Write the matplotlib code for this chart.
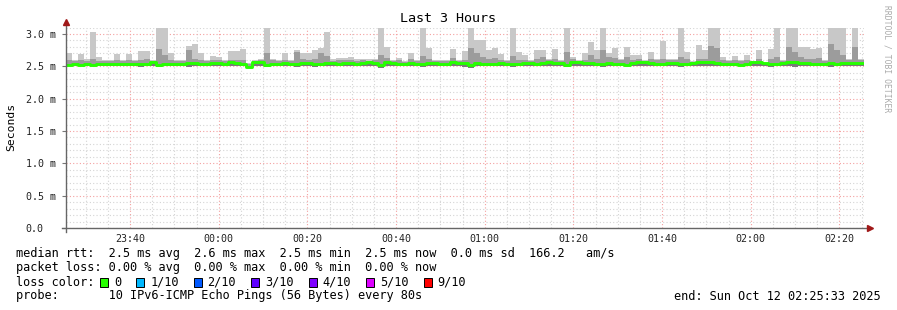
import datetime as dt
import matplotlib
matplotlib.use("Agg")
import matplotlib.pyplot as plt
import matplotlib.dates as mdates
from matplotlib.lines import Line2D
import numpy as np

# time window of the graph
t_start = dt.datetime(2025, 10, 11, 23, 25, 33)
t_end = dt.datetime(2025, 10, 12, 2, 25, 33)

# smoke: max / upper quartile / min ping per step (ms), median rtt (ms)
rtt_max = [
    2.70, 2.60, 2.69, 2.62, 3.03, 2.65, 2.60, 2.60, 2.69, 2.60,
    2.69, 2.60, 2.73, 2.73, 2.60, 3.10, 3.10, 2.70, 2.60, 2.60,
    2.82, 2.84, 2.71, 2.60, 2.66, 2.64, 2.60, 2.73, 2.74, 2.77,
    2.55, 2.60, 2.62, 3.10, 2.62, 2.60, 2.71, 2.60, 2.75, 2.70,
    2.70, 2.75, 2.78, 3.03, 2.62, 2.63, 2.63, 2.65, 2.62, 2.62,
    2.61, 2.61, 3.10, 2.80, 2.60, 2.63, 2.58, 2.70, 2.60, 3.10,
    2.78, 2.60, 2.60, 2.60, 2.77, 2.60, 2.74, 3.10, 2.90, 2.90,
    2.75, 2.79, 2.69, 2.60, 3.10, 2.72, 2.68, 2.60, 2.75, 2.75,
    2.62, 2.77, 2.60, 3.10, 2.65, 2.60, 2.70, 2.87, 2.75, 3.10,
    2.70, 2.78, 2.62, 2.80, 2.68, 2.68, 2.60, 2.72, 2.62, 2.89,
    2.62, 2.62, 3.10, 2.72, 2.58, 2.83, 2.75, 3.10, 3.10, 2.65,
    2.60, 2.66, 2.60, 2.68, 2.55, 2.75, 2.55, 2.77, 3.10, 2.60,
    3.10, 3.10, 2.80, 2.80, 2.76, 2.78, 2.60, 3.10, 3.10, 3.10,
    2.62, 3.10, 2.62,
]
rtt_upper = [
    2.60, 2.58, 2.59, 2.58, 2.62, 2.58, 2.58, 2.58, 2.60, 2.58,
    2.59, 2.58, 2.60, 2.61, 2.58, 2.76, 2.68, 2.59, 2.58, 2.58,
    2.75, 2.62, 2.60, 2.58, 2.59, 2.60, 2.58, 2.60, 2.59, 2.60,
    2.53, 2.58, 2.59, 2.70, 2.59, 2.58, 2.60, 2.58, 2.72, 2.62,
    2.60, 2.62, 2.70, 2.66, 2.58, 2.59, 2.60, 2.60, 2.58, 2.59,
    2.58, 2.59, 2.68, 2.63, 2.58, 2.60, 2.57, 2.61, 2.58, 2.66,
    2.62, 2.58, 2.58, 2.58, 2.63, 2.58, 2.60, 2.78, 2.70, 2.64,
    2.61, 2.63, 2.60, 2.58, 2.66, 2.60, 2.59, 2.58, 2.62, 2.64,
    2.59, 2.61, 2.58, 2.72, 2.62, 2.58, 2.60, 2.68, 2.62, 2.75,
    2.64, 2.63, 2.59, 2.65, 2.60, 2.61, 2.58, 2.61, 2.59, 2.62,
    2.59, 2.59, 2.65, 2.62, 2.57, 2.62, 2.62, 2.82, 2.78, 2.60,
    2.58, 2.59, 2.58, 2.60, 2.54, 2.62, 2.54, 2.62, 2.65, 2.58,
    2.80, 2.72, 2.64, 2.62, 2.62, 2.63, 2.58, 2.85, 2.75, 2.68,
    2.59, 2.80, 2.60,
]
rtt_min = [
    2.50, 2.50, 2.51, 2.50, 2.50, 2.51, 2.50, 2.50, 2.50, 2.51,
    2.50, 2.50, 2.49, 2.50, 2.51, 2.49, 2.50, 2.51, 2.50, 2.50,
    2.49, 2.50, 2.50, 2.51, 2.50, 2.50, 2.51, 2.50, 2.50, 2.50,
    2.47, 2.51, 2.50, 2.49, 2.50, 2.51, 2.50, 2.50, 2.49, 2.50,
    2.50, 2.49, 2.50, 2.50, 2.51, 2.50, 2.50, 2.51, 2.50, 2.50,
    2.51, 2.50, 2.48, 2.50, 2.51, 2.50, 2.50, 2.50, 2.51, 2.49,
    2.50, 2.51, 2.50, 2.50, 2.50, 2.51, 2.49, 2.47, 2.50, 2.50,
    2.50, 2.50, 2.51, 2.50, 2.49, 2.50, 2.50, 2.51, 2.50, 2.50,
    2.51, 2.50, 2.50, 2.49, 2.50, 2.51, 2.50, 2.50, 2.50, 2.49,
    2.50, 2.50, 2.50, 2.50, 2.51, 2.50, 2.51, 2.50, 2.50, 2.50,
    2.50, 2.51, 2.49, 2.50, 2.50, 2.50, 2.51, 2.50, 2.50, 2.50,
    2.50, 2.50, 2.51, 2.50, 2.50, 2.51, 2.50, 2.49, 2.50, 2.50,
    2.50, 2.49, 2.50, 2.50, 2.50, 2.50, 2.51, 2.49, 2.50, 2.50,
    2.50, 2.50, 2.51,
]
median = [
    2.52, 2.53, 2.52, 2.53, 2.52, 2.53, 2.54, 2.54, 2.53, 2.53,
    2.54, 2.53, 2.53, 2.54, 2.56, 2.52, 2.53, 2.54, 2.54, 2.53,
    2.55, 2.55, 2.54, 2.54, 2.55, 2.55, 2.54, 2.56, 2.55, 2.54,
    2.49, 2.56, 2.56, 2.52, 2.54, 2.54, 2.55, 2.54, 2.54, 2.55,
    2.55, 2.53, 2.54, 2.55, 2.55, 2.54, 2.55, 2.55, 2.54, 2.55,
    2.56, 2.55, 2.52, 2.56, 2.55, 2.54, 2.54, 2.55, 2.54, 2.54,
    2.55, 2.55, 2.53, 2.54, 2.56, 2.55, 2.55, 2.52, 2.55, 2.54,
    2.54, 2.54, 2.55, 2.54, 2.53, 2.54, 2.55, 2.55, 2.54, 2.55,
    2.56, 2.55, 2.55, 2.52, 2.56, 2.56, 2.55, 2.55, 2.54, 2.53,
    2.55, 2.54, 2.54, 2.52, 2.55, 2.56, 2.56, 2.55, 2.54, 2.54,
    2.55, 2.55, 2.54, 2.53, 2.55, 2.56, 2.57, 2.56, 2.55, 2.54,
    2.54, 2.53, 2.52, 2.54, 2.56, 2.57, 2.55, 2.54, 2.53, 2.55,
    2.56, 2.56, 2.55, 2.55, 2.54, 2.53, 2.54, 2.55, 2.54, 2.55,
    2.55, 2.55, 2.55,
]

y_ticks = [0.0, 0.5, 1.0, 1.5, 2.0, 2.5, 3.0]
y_labels = ["0.0", "0.5 m", "1.0 m", "1.5 m", "2.0 m", "2.5 m", "3.0 m"]

legend_lines = [
    "median rtt:  2.5 ms avg  2.6 ms max  2.5 ms min  2.5 ms now  0.0 ms sd  166.2   am/s",
    "packet loss: 0.00 % avg  0.00 % max  0.00 % min  0.00 % now",
    "loss color:",
    "probe:       10 IPv6-ICMP Echo Pings (56 Bytes) every 80s",
]
loss_labels = ["0", "1/10", "2/10", "3/10", "4/10", "5/10", "9/10"]
loss_colors = ["#26ff00", "#00b8ff", "#0059ff", "#5e00ff", "#7e00ff", "#dd00ff", "#ff0000"]
end_text = "end: Sun Oct 12 02:25:33 2025"

W, H = 897, 310
MONO = "DejaVu Sans Mono"


def fx(x):
    return x / W


def fy(y):
    return 1 - y / H


fig = plt.figure(figsize=(W / 100, H / 100), dpi=100)
fig.patch.set_facecolor("white")
ax = fig.add_axes([fx(66), fy(228), (864 - 66) / W, (228 - 27.5) / H])

n = len(median)
step = (t_end - t_start) / n
times = [t_start + i * step for i in range(n)]
xnum = mdates.date2num(times)
width = mdates.date2num(t_end) - mdates.date2num(t_start)
width /= n

lo = np.array(rtt_min)
ax.bar(xnum, np.array(rtt_max) - lo, bottom=lo, width=width, align="edge",
       color="#c8c8c8", linewidth=0, zorder=2)
ax.bar(xnum, np.array(rtt_upper) - lo, bottom=lo, width=width, align="edge",
       color="#9c9c9c", linewidth=0, zorder=3)
ax.bar(xnum, np.array(median) - lo, bottom=lo, width=width, align="edge",
       color="#7a7a7a", linewidth=0, zorder=4)

# median line, coloured by loss (all 0 here)
ax.step(np.append(xnum, mdates.date2num(t_end)), median + [median[-1]],
        where="post", color=loss_colors[0], lw=2.1, zorder=5)

ax.set_xlim(mdates.date2num(t_start), mdates.date2num(t_end))
ax.set_ylim(0, 3.1)

ax.xaxis.set_major_locator(mdates.MinuteLocator(byminute=[0, 20, 40]))
ax.xaxis.set_minor_locator(mdates.MinuteLocator(byminute=range(0, 60, 5)))
ax.xaxis.set_major_formatter(mdates.DateFormatter("%H:%M"))
ax.set_yticks(y_ticks)
ax.set_yticklabels(y_labels)
ax.set_yticks(np.arange(0, 3.11, 0.1), minor=True)

ax.grid(which="minor", color="#d4d4d4", linestyle=(0, (1, 2)), lw=0.8, zorder=1)
ax.grid(which="major", color="#f4a0a0", linestyle=(0, (1, 2)), lw=0.8, zorder=1)
ax.set_axisbelow(True)

for s in ax.spines.values():
    s.set_visible(False)

ax.tick_params(axis="x", which="major", length=0, pad=4, labelsize=7.2, colors="#222222")
ax.tick_params(axis="x", which="minor", length=0)
ax.tick_params(axis="y", which="major", length=3, width=0.8, color="#777777",
               pad=26, labelsize=7.2, labelcolor="#222222")
ax.tick_params(axis="y", which="minor", length=0)
for lab in ax.get_yticklabels():
    lab.set_horizontalalignment("left")
for lab in ax.get_xticklabels() + ax.get_yticklabels():
    lab.set_fontfamily(MONO)

# axes with arrows
fig.add_artist(Line2D([fx(62), fx(866)], [fy(228), fy(228)], color="#666666", lw=1))
fig.add_artist(Line2D([fx(66), fx(66)], [fy(232), fy(24)], color="#666666", lw=1))
fig.add_artist(Line2D([fx(870)], [fy(228)], marker=">", markersize=4,
                      color="#a01818", lw=0))
fig.add_artist(Line2D([fx(66)], [fy(22)], marker="^", markersize=4,
                      color="#a01818", lw=0))

fig.text(fx(448), fy(19), "Last 3 Hours", ha="center", va="center",
         family=MONO, fontsize=9.6, color="black")
fig.text(fx(11), fy(127), "Seconds", ha="center", va="center", rotation=90,
         family=MONO, fontsize=8.2, color="black")
fig.text(fx(887), fy(5), "RRDTOOL / TOBI OETIKER", ha="center", va="top",
         rotation=270, family=MONO, fontsize=5.8, color="#aaaaaa")

cw = 7.12  # character width of the legend font in px
for i, line in enumerate(legend_lines):
    fig.text(fx(16), fy(254 + 14 * i), line, ha="left", va="center",
             family=MONO, fontsize=8.55, color="black")

x = 100
for lab, col in zip(loss_labels, loss_colors):
    fig.add_artist(plt.Rectangle((fx(x), fy(287)), 8 / W, 9 / H, facecolor=col,
                                 edgecolor="black", lw=0.7))
    fig.text(fx(x + 14), fy(282), lab, ha="left", va="center",
             family=MONO, fontsize=8.55, color="black")
    x = x + 14 + len(lab) * cw + 15

fig.text(fx(881), fy(296), end_text, ha="right", va="center",
         family=MONO, fontsize=8.55, color="black")

fig.savefig("out.png", dpi=100, facecolor="white")
